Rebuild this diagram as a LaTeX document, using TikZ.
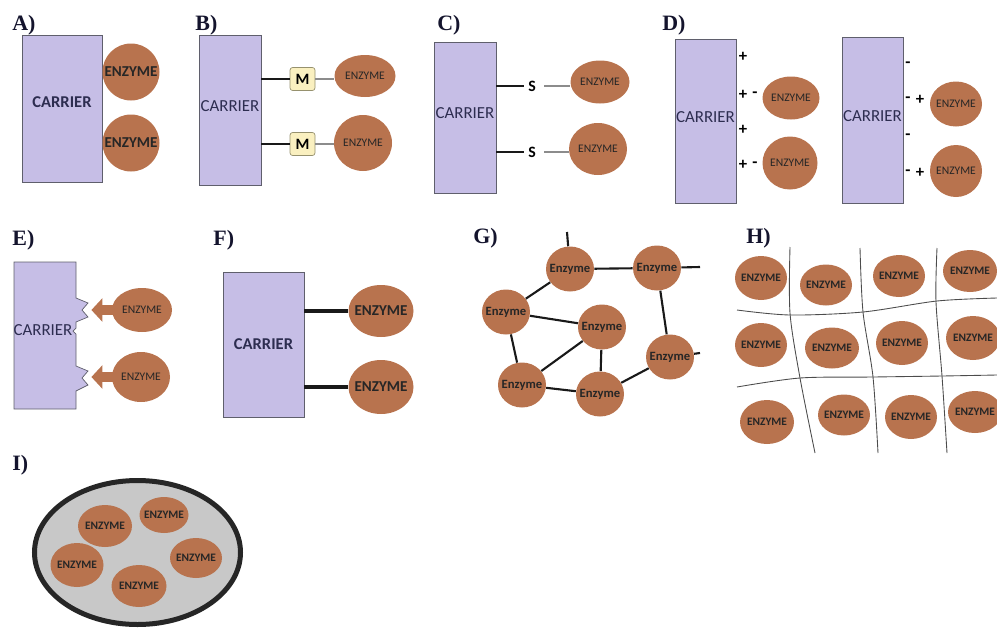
\documentclass[tikz,border=0pt]{standalone}
\usepackage{fontspec}
\setmainfont{Carlito}
\newfontfamily\panelfont{Liberation Serif}
\usetikzlibrary{shapes.geometric,arrows.meta}

\definecolor{carfill}{RGB}{198,190,230}
\definecolor{carline}{RGB}{95,95,108}
\definecolor{enzfill}{RGB}{184,115,78}
\definecolor{mfill}{RGB}{250,240,192}
\definecolor{mline}{RGB}{150,145,110}
\definecolor{cartext}{RGB}{45,45,80}
\definecolor{panelcol}{RGB}{20,20,45}
\definecolor{beadfill}{RGB}{200,200,200}

\newcommand{\enzword}{\makebox[0pt]{ENZYME}}
\newcommand{\enzlow}{\makebox[0pt]{Enzyme}}

\tikzset{
	panel/.style={anchor=base west, inner sep=0pt, text=panelcol, font=\panelfont\bfseries\fontsize{12.5}{13}\selectfont},
	carrier/.style 2 args={draw=carline, fill=carfill, minimum width=#1*0.02cm, minimum height=#2*0.02cm, inner sep=0pt, text depth=5pt, text=cartext, font=\fontsize{9.6}{10}\selectfont},
	carbold/.style={font=\bfseries\fontsize{9.4}{10}\selectfont},
	enzyme/.style 2 args={ellipse, fill=enzfill, minimum width=#1*0.02cm, minimum height=#2*0.02cm, inner sep=0pt, text=black!85},
	bigtxt/.style={font=\bfseries\fontsize{8.6}{9}\selectfont},
	smalltxt/.style={font=\fontsize{6.6}{7}\selectfont},
	nettxt/.style={font=\bfseries\fontsize{7.2}{8}\selectfont},
	gridtxt/.style={font=\bfseries\fontsize{6.5}{7}\selectfont},
	mbox/.style={draw=mline, fill=mfill, rounded corners=1.5pt, minimum width=25*0.02cm, minimum height=23*0.02cm, inner sep=0pt, font=\bfseries\fontsize{9}{9}\selectfont},
	sulfur/.style={inner sep=0pt, inner xsep=2pt, font=\bfseries\fontsize{9}{9}\selectfont},
	sign/.style={inner sep=0pt, font=\bfseries\fontsize{9.5}{10}\selectfont},
	bondline/.style={line width=1.7pt, black!90},
	fatline/.style={line width=2.3pt, black!90},
	thinline/.style={line width=0.6pt, black!45},
	netline/.style={line width=1.2pt, black!90},
	gridline/.style={line width=0.5pt, black!70},
}

\begin{document}
\begin{tikzpicture}[x=0.02cm, y=-0.02cm]
	\useasboundingbox (0,0) rectangle (997,629);

	% A
	\node[panel] (labA) at (12,30) {A)};
	\node[carrier={80}{147}, carbold, text depth=7pt] (carA) at (62,108.5) {CARRIER};
	\node[enzyme={57}{57}, bigtxt] (enzA1) at (131,72) {\enzword};
	\node[enzyme={57}{57}, bigtxt] (enzA2) at (131,143) {\enzword};

	% B
	\node[panel] (labB) at (195,30) {B)};
	\node[carrier={62}{150}] (carB) at (230,110) {CARRIER};
	\node[mbox] (mB1) at (302.5,79) {M};
	\node[mbox] (mB2) at (302.5,144) {M};
	\node[enzyme={61}{42}, smalltxt] (enzB1) at (365,76) {\enzword};
	\node[enzyme={58}{56}, smalltxt] (enzB2) at (363,143) {\enzword};
	\foreach \m/\e in {mB1/enzB1, mB2/enzB2}{
		\draw[bondline] (carB.east |- \m) -- (\m.west);
		\draw[thinline] (\m.east) -- (\m.east -| \e.west);
	}

	% C
	\node[panel] (labC) at (437,30) {C)};
	\node[carrier={62}{151}] (carC) at (465,117.5) {CARRIER};
	\node[sulfur] (sC1) at (532,86) {S};
	\node[sulfur] (sC2) at (532,152) {S};
	\node[enzyme={59}{43}, smalltxt] (enzC1) at (600,82) {\enzword};
	\node[enzyme={58}{52}, smalltxt] (enzC2) at (598,149) {\enzword};
	\foreach \s/\e in {sC1/enzC1, sC2/enzC2}{
		\draw[bondline] (carC.east |- \s) -- (\s.west);
		\draw[thinline] ([xshift=2.5pt]\s.east) -- (\s -| \e.west);
	}

	% D
	\node[panel] (labD) at (662,30) {D)};
	\node[carrier={61}{164}] (carD1) at (705.5,121) {CARRIER};
	\foreach \y [count=\i] in {57,95,130,165}
		\node[sign] (plusL\i) at (743,\y) {+};
	\node[sign] (minL1) at (755,95) {-};
	\node[sign] (minL2) at (755,165) {-};
	\node[enzyme={57}{43}, smalltxt] (enzD1) at (791,98) {\enzword};
	\node[enzyme={55}{53}, smalltxt] (enzD2) at (790,163) {\enzword};

	\node[carrier={61}{166}] (carD2) at (872.5,120) {CARRIER};
	\foreach \y [count=\i] in {65,100,137,173}
		\node[sign] (minR\i) at (908,\y) {-};
	\node[sign] (plusR1) at (920,100) {+};
	\node[sign] (plusR2) at (920,173) {+};
	\node[enzyme={52}{45}, smalltxt] (enzD3) at (956,104) {\enzword};
	\node[enzyme={52}{52}, smalltxt] (enzD4) at (956,171) {\enzword};

	% E
	\node[panel] (labE) at (12,245) {E)};
	\filldraw[fill=carfill, draw=carline] (14,262) -- (76,262) -- (76,298) -- (88,303) -- (82,310) -- (88,317) -- (76,322)
		-- (76,328) -- (73,331) -- (76,334) -- (76,366) -- (88,371) -- (82,378) -- (88,385) -- (76,391) -- (76,409) -- (14,409) -- cycle;
	\node[text=cartext, font=\fontsize{9.6}{10}\selectfont, inner sep=0pt] (carE) at (43,330) {CARRIER};
	\node[enzyme={60}{44}, smalltxt] (enzE1) at (142,310) {\enzword};
	\node[enzyme={58}{50}, smalltxt] (enzE2) at (141,377) {\enzword};
	\foreach \e in {enzE1, enzE2}
		\draw[enzfill, line width=0.2cm, -{Triangle[length=0.22cm, width=0.46cm]}] ([xshift=1pt]\e.west) -- ++(-22,0);

	% F
	\node[panel] (labF) at (213,245) {F)};
	\node[carrier={81}{145}, carbold, text depth=1pt] (carF) at (263.5,344.5) {CARRIER};
	\node[enzyme={65}{52}, bigtxt] (enzF1) at (381,311) {\enzword};
	\node[enzyme={65}{54}, bigtxt] (enzF2) at (381,387) {\enzword};
	\draw[fatline] (carF.east |- enzF1) -- (enzF1.west);
	\draw[fatline] (carF.east |- enzF2) -- (enzF2.west);

	% G
	\node[panel] (labG) at (473,243) {G)};
	\foreach \x/\y [count=\i] in {570/269, 657/268, 506/312, 602/327, 670/357, 522/385, 600/394}
		\node[enzyme={48}{45}, nettxt] (g\i) at (\x,\y) {\enzlow};
	\coordinate (gtop) at (567,232);
	\coordinate (gright1) at (700,267);
	\coordinate (gright2) at (700,353);
	\foreach \a/\b in {g1/g2, g1/g3, g3/g4, g3/g6, g6/g4, g6/g7, g4/g7, g7/g5, g2/g5, g1/gtop, g2/gright1, g5/gright2}
		\draw[netline] (\a) -- (\b);

	% H
	\node[panel] (labH) at (746,243) {H)};
	\foreach \x/\y/\w/\h [count=\i] in {761/278/52/44, 826/285/52/41, 899/276/52/42, 970/271/54/42,
		761/345/52/44, 832/348/54/41, 902/343/52/44, 973/338/54/44,
		767/422/54/44, 844/415/52/41, 911/417/52/44, 975/412/54/42}
		\node[enzyme={\w}{\h}, gridtxt] (h\i) at (\x,\y) {\enzword};
	\draw[gridline] plot[smooth] coordinates {(790,247) (790,313) (800,378) (815,453)};
	\draw[gridline] plot[smooth] coordinates {(860,248) (863,312) (873,377) (878,453)};
	\draw[gridline] plot[smooth] coordinates {(937,248) (936,302) (942,376) (947,453)};
	\draw[gridline] plot[smooth] coordinates {(737,310) (790,315) (863,312) (937,301) (997,298)};
	\draw[gridline] plot[smooth] coordinates {(737,387) (800,378) (873,377) (942,376) (997,375)};

	% I
	\node[panel] (labI) at (12,470) {I)};
	\node[ellipse, draw=black!85, line width=0.1cm, fill=beadfill, minimum width=206*0.02cm, minimum height=144*0.02cm, inner sep=0pt] (bead) at (137.5,552.5) {};
	\foreach \x/\y/\w/\h [count=\i] in {105/526/54/42, 164/515/49/36, 196/558/52/40, 77/565/53/44, 139/586/55/42}
		\node[enzyme={\w}{\h}, gridtxt] (i\i) at (\x,\y) {\enzword};
\end{tikzpicture}
\end{document}
